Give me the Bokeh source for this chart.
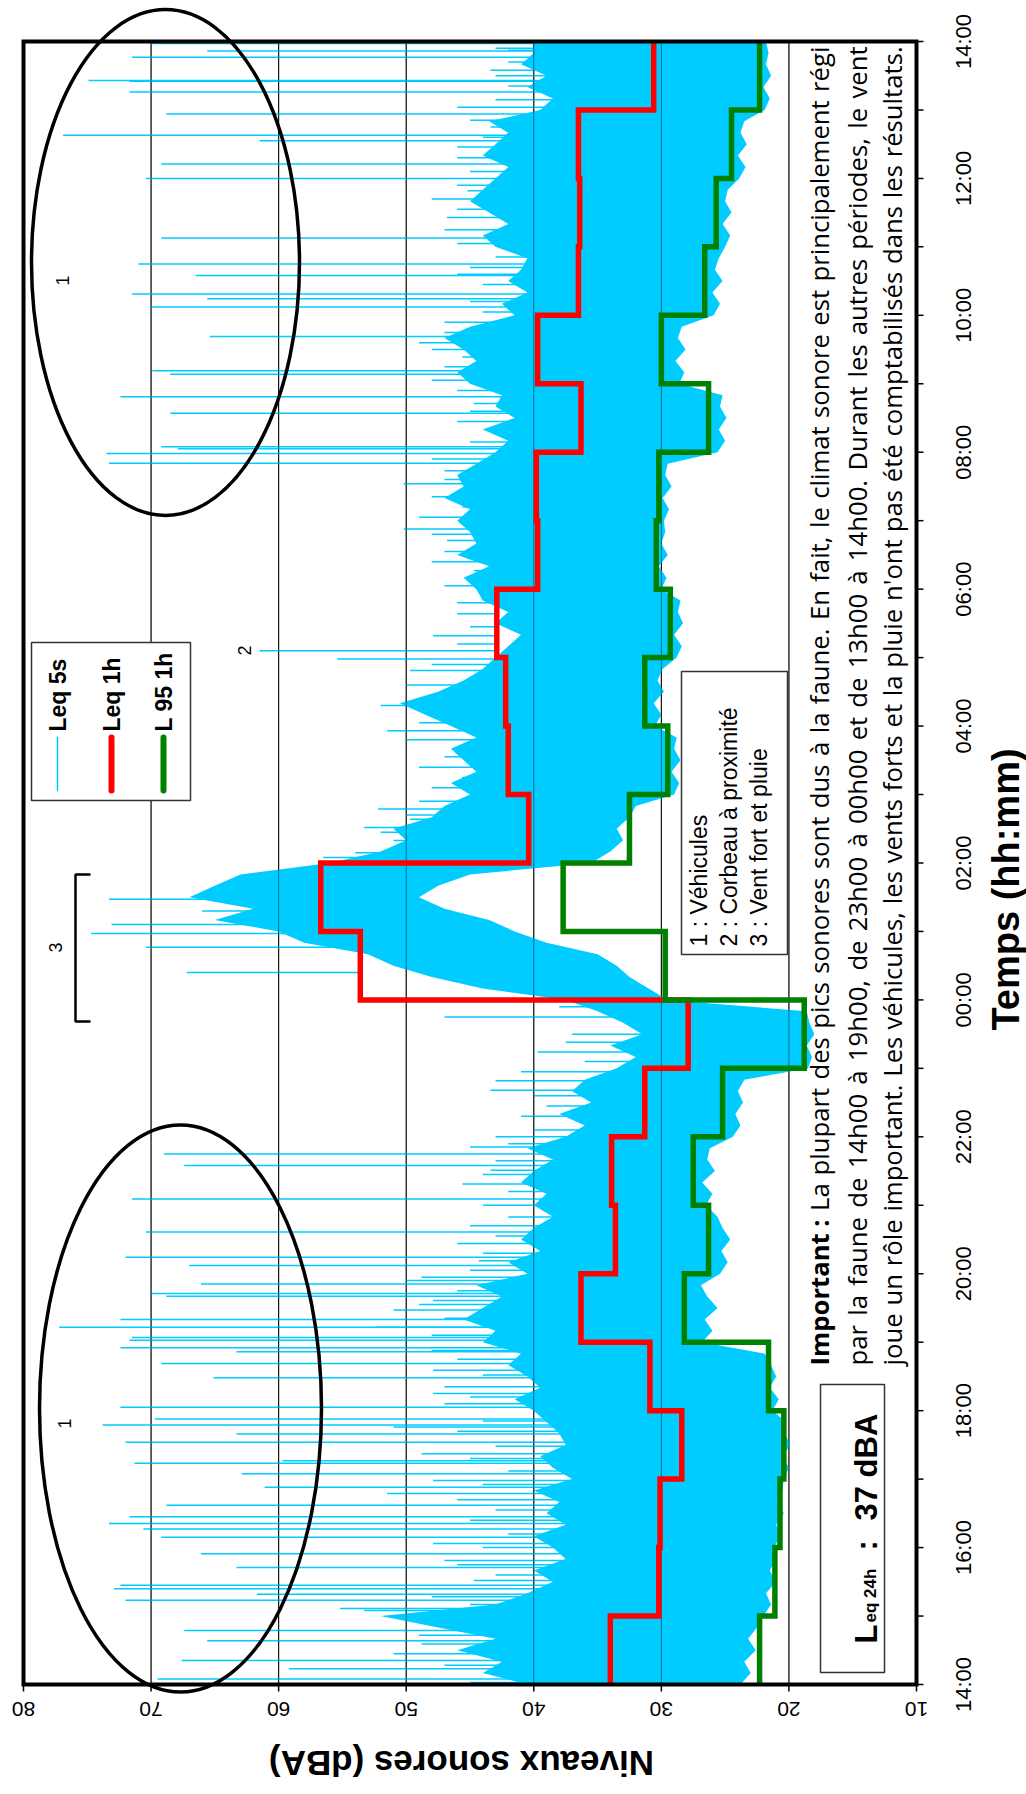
import math
from bokeh.plotting import figure
from bokeh.models import Range1d
from bokeh.core.properties import value
from bokeh.embed import file_html
from bokeh.resources import INLINE

# ---------------- data ----------------
db_ticks = [80, 70, 60, 50, 40, 30, 20, 10]
db_grid = [70, 60, 50, 40, 30, 20]
time_tick_hours = [0, 2, 4, 6, 8, 10, 12, 14, 16, 18, 20, 22, 24]
time_all_hours = list(range(25))
time_tick_labels = ["14:00", "16:00", "18:00", "20:00", "22:00", "00:00", "02:00",
                    "04:00", "06:00", "08:00", "10:00", "12:00", "14:00"]
x_title = "Niveaux sonores (dBA)"
y_title = "Temps (hh:mm)"

# hourly values (hour 0 = 14:00-15:00)
leq_1h = [34.0, 30.2, 30.1, 28.4, 30.9, 36.3, 33.6, 33.9, 31.3, 27.9, 53.6, 56.7,
          40.4, 42.0, 42.2, 42.9, 39.7, 39.8, 36.3, 39.7, 36.5, 36.4, 36.5, 30.6]
l95_1h = [22.3, 21.1, 20.7, 20.4, 21.6, 28.2, 26.3, 27.5, 25.2, 18.8, 29.7, 37.7,
          32.5, 29.5, 31.3, 29.3, 30.4, 30.2, 26.3, 30.0, 26.6, 25.7, 24.5, 22.3]

# Leq 5s band, read every 10 minutes (hours after 14:00)
leq5s_t = [h + f for h in range(24) for f in (0.0, 0.167, 0.333, 0.5, 0.667, 0.833)] + [24.0]
leq5s_low = [
    23.8, 23.0, 23.5, 22.6, 23.2, 22.5,
    22.0, 21.4, 21.8, 21.0, 21.5, 21.0,
    21.2, 20.6, 21.0, 20.4, 20.9, 20.5,
    20.4, 20.0, 20.5, 19.9, 20.3, 20.2,
    21.3, 20.8, 21.5, 21.0, 21.4, 21.9,
    26.8, 26.0, 26.6, 25.6, 26.4, 26.9,
    25.4, 24.8, 25.3, 24.6, 25.2, 25.6,
    26.5, 26.0, 26.8, 25.8, 26.4, 26.2,
    24.4, 23.8, 24.2, 23.6, 24.0, 23.5,
    18.5, 18.2, 18.6, 18.0, 18.4, 18.6,
    29.5, 31.0, 32.5, 33.5, 35.0, 39.0,
    41.5, 43.5, 47.0, 49.0, 47.5, 45.0,
    35.5, 34.0, 33.0, 33.5, 32.5, 32.0,
    29.0, 28.6, 29.2, 28.5, 29.0, 28.8,
    30.5, 30.0, 30.6, 29.8, 30.3, 29.9,
    28.8, 28.4, 29.0, 28.3, 28.7, 28.5,
    30.0, 29.6, 30.2, 29.5, 30.0, 29.7,
    29.8, 29.4, 29.9, 29.2, 29.7, 29.5,
    25.6, 25.0, 25.5, 24.9, 25.4, 25.2,
    28.6, 28.2, 28.9, 28.1, 28.7, 28.4,
    25.9, 25.4, 26.0, 25.2, 25.8, 25.5,
    25.0, 24.6, 25.2, 24.5, 25.0, 24.8,
    23.9, 23.4, 24.0, 23.3, 23.8, 23.5,
    21.9, 21.5, 22.0, 21.4, 21.8, 21.6,
    21.8]
leq5s_high = [
    40.5, 44.0, 42.5, 46.0, 43.0, 47.5,
    52.0, 43.0, 40.5, 38.5, 40.0, 37.5,
    38.5, 40.0, 37.5, 39.0, 38.0, 40.0,
    37.0, 38.5, 39.5, 37.5, 38.0, 39.0,
    40.0, 41.5, 39.5, 40.5, 42.0, 41.0,
    44.0, 43.0, 45.5, 44.0, 42.5, 44.5,
    40.5, 42.0, 39.5, 41.0, 40.0, 38.5,
    40.0, 39.0, 41.0, 40.0, 38.5, 40.5,
    37.5, 36.0, 38.0, 35.5, 37.0, 36.0,
    33.5, 32.0, 34.0, 31.5, 33.0, 35.0,
    37.5, 44.0, 48.0, 51.0, 53.0, 58.0,
    60.0, 65.0, 62.0, 67.0, 65.0, 63.0,
    56.0, 52.0, 50.0, 51.0, 48.0, 47.0,
    45.0, 46.5, 44.5, 45.5, 46.5, 44.5,
    46.5, 48.5, 50.5, 47.5, 45.5, 44.0,
    43.0, 42.0, 41.0, 43.0, 42.0, 44.0,
    44.5, 45.5, 43.5, 46.0, 44.5, 45.0,
    46.0, 45.0, 47.0, 45.5, 46.0, 44.5,
    43.0, 42.0, 44.0, 41.5, 43.0, 42.5,
    45.0, 46.0, 44.5, 45.5, 47.0, 45.0,
    41.5, 42.5, 40.5, 42.0, 41.0, 40.5,
    43.0, 44.0, 42.0, 43.5, 45.0, 44.0,
    43.0, 42.0, 44.0, 43.0, 42.0, 43.5,
    39.5, 38.5, 40.5, 39.0, 41.0, 40.0,
    40.0]

# individual Leq 5s peaks (time in hours after 14:00, level dBA)
peak_t = [0.08, 0.23, 0.35, 0.64, 0.79, 1.11, 1.23, 1.32, 1.40, 1.45, 1.71, 1.91, 2.15, 2.27, 2.35,
          2.45, 2.62, 2.88, 3.08, 3.23, 3.27, 3.54, 3.66, 3.79, 3.88, 4.05, 4.25, 4.48, 4.69, 4.86,
          4.92, 5.03, 5.07, 5.22, 5.33, 5.67, 5.71, 5.85,
          6.12, 6.24, 6.61, 7.09, 7.58, 7.75,
          10.40, 10.77, 10.97, 11.10, 11.30, 11.47, 11.52, 11.79,
          12.08, 12.64, 12.79, 13.93, 14.98, 15.10, 15.32, 16.88, 17.54, 17.84, 17.98,
          18.05, 18.08, 18.57, 18.81, 19.14, 19.19, 19.69, 20.12, 20.24, 20.31, 20.58, 20.75,
          21.13, 22.00, 22.21, 22.55, 22.63, 22.94, 23.26, 23.42, 23.43, 23.77, 23.86, 23.97,
          0.16, 0.45, 0.59, 0.96, 1.08, 1.52, 1.81, 2.06, 2.79, 2.98, 3.37, 3.76, 4.10, 4.59,
          5.22, 5.47, 5.61, 5.95, 6.19, 6.44, 6.83, 7.31, 7.51, 7.90, 8.00, 8.68, 8.82, 9.24,
          9.38, 9.75, 12.33, 12.52, 13.25, 13.69, 14.18, 14.81, 15.64, 16.27, 16.71, 17.20,
          17.73, 18.32, 18.71, 19.39, 19.75, 20.60, 21.43, 21.82, 22.46, 22.75, 23.04, 23.58,
          23.87,
          0.03, 0.28, 0.50, 0.72, 0.85, 1.17, 1.28, 1.60, 1.75, 2.00, 2.20, 2.40, 2.55, 2.70,
          2.92, 3.12, 3.30, 3.48, 3.70, 3.85, 4.20, 4.35, 4.52, 4.75, 4.88, 5.10, 5.35, 5.55,
          5.75, 5.90, 6.05, 6.30, 6.55, 6.70, 7.00, 7.20, 7.45, 7.65, 7.85, 8.10, 8.30, 8.45,
          8.60, 8.95, 9.10, 9.50, 9.90, 12.15, 12.45, 12.70, 12.90, 13.10, 13.40, 13.55, 13.80,
          14.05, 14.30, 14.60, 14.90, 15.20, 15.45, 15.80, 16.05, 16.40, 16.55, 16.80, 17.05,
          17.35, 17.60, 17.90, 18.15, 18.45, 18.60, 18.90, 19.05, 19.25, 19.50, 19.60, 19.90,
          20.05, 20.20, 20.45, 20.70, 20.85, 21.05, 21.25, 21.55, 21.70, 21.90, 22.10, 22.30,
          22.60, 22.85, 23.15, 23.35, 23.50, 23.70, 23.90]
peak_db = [69.5, 59.2, 67.6, 65.6, 67.4, 55.2, 72.0, 61.7, 72.9, 72.4, 63.3, 66.1, 69.2, 70.6, 73.3,
           71.7, 68.8, 61.1, 62.9, 71.3, 59.7, 72.0, 63.3, 73.8, 69.7, 72.4, 47.9, 65.1, 69.2, 63.3,
           72.4, 71.7, 71.5, 77.2, 72.4, 68.8, 70.1, 66.1,
           67.0, 72.0, 70.4, 71.5, 67.4, 69.0,
           67.2, 70.4, 74.7, 73.1, 66.0, 73.3, 63.3, 62.4,
           56.5, 49.7, 52.2, 51.5, 55.4, 61.5, 47.9, 50.2, 50.2, 73.3, 73.5,
           67.9, 69.2, 68.5, 72.4, 68.5, 69.9, 65.4, 70.1, 65.6, 71.5, 66.5, 71.0,
           69.2, 70.4, 69.2, 61.5, 76.9, 68.8, 71.7, 71.7, 74.9, 71.5, 65.6, 69.9,
           43.4, 51.0, 48.8, 48.8, 53.3, 44.7, 47.0, 47.9, 51.5, 47.9, 48.8, 51.0, 47.0, 47.9,
           52.4, 51.0, 47.9, 48.8, 44.3, 46.0, 42.0, 45.6, 43.4, 42.0, 43.0, 43.4, 43.0, 39.7,
           37.5, 47.0, 51.0, 53.3, 45.6, 46.0, 46.0, 49.7, 46.0, 44.7, 46.8, 45.6,
           47.0, 43.4, 44.7, 45.6, 47.0, 46.0, 46.8, 45.2, 46.0, 43.4, 46.0, 43.4,
           42.0,
           45.0, 47.0, 44.0, 49.0, 46.0, 45.0, 48.0, 43.0, 46.0, 44.0, 42.0, 45.0, 43.0, 46.0,
           44.0, 42.0, 45.0, 43.0, 46.0, 44.0, 45.0, 47.0, 44.0, 46.0, 48.0, 48.0, 47.0, 49.0,
           46.0, 50.0, 45.0, 44.0, 43.0, 45.0, 44.0, 42.0, 44.0, 43.0, 45.0, 40.0, 41.0, 39.0,
           40.0, 41.0, 36.0, 37.0, 38.0, 54.0, 52.0, 50.0, 49.0, 48.0, 49.0, 47.0, 50.0,
           49.0, 52.0, 50.0, 48.0, 46.0, 45.0, 46.0, 47.0, 48.0, 47.0, 48.0, 49.0,
           48.0, 47.0, 48.0, 45.0, 46.0, 45.0, 46.0, 48.0, 47.0, 48.0, 49.0, 47.0,
           44.0, 45.0, 44.0, 45.0, 43.0, 46.0, 47.0, 46.0, 48.0, 46.0, 45.0, 46.0,
           44.0, 45.0, 43.0, 42.0, 43.0, 42.0, 43.0]

legend_names = ["Leq 5s", "Leq 1h", "L 95 1h"]
note_lines = ["1 : Véhicules", "2 : Corbeau à proximité", "3 : Vent fort et pluie"]
important_lines = [
    "Important : La plupart des pics sonores sont dus à la faune. En fait, le climat sonore est principalement régi",
    "par la faune de 14h00 à 19h00, de 23h00 à 00h00 et de 13h00 à 14h00. Durant les autres périodes, le vent",
    "joue un rôle important. Les véhicules, les vents forts et la pluie n'ont pas été comptabilisés dans les résultats.",
]
important_bold_words = ["Important", ":"]

# ---------------- layout helpers (page pixels -> data) ----------------
W, H = 1026, 1794
FRAME_L, FRAME_R, FRAME_B = 23, 916, 1684
PX_PER_H = 68.46


def dbx(px):
    return 80 - (px - FRAME_L) * 70.0 / (FRAME_R - FRAME_L)


def ty(py):
    return (FRAME_B - py) / PX_PER_H


BLUE = "#00CCFF"
RED = "#FF0000"
GREEN = "#008000"
FONT = "Liberation Sans"

p = figure(width=W, height=H,
           x_range=Range1d(dbx(0), dbx(W)), y_range=Range1d(ty(H), ty(0)),
           x_axis_location=None, y_axis_location=None,
           output_backend="svg", toolbar_location=None,
           min_border_left=0, min_border_right=0, min_border_top=0, min_border_bottom=0)
p.outline_line_color = None
p.background_fill_color = "white"
p.border_fill_color = "white"
for g in p.grid:
    g.visible = False

# ---- gridlines (under the trace) ----
p.segment(x0=db_grid, y0=[0] * len(db_grid), x1=db_grid, y1=[24] * len(db_grid),
          line_color="black", line_width=1)

# ---- Leq 5s band and peaks ----
p.harea(x1=leq5s_low, x2=leq5s_high, y=leq5s_t, fill_color=BLUE, fill_alpha=1.0)
peak_base = [leq_1h[min(int(t), 23)] for t in peak_t]
p.segment(x0=peak_base, y0=peak_t, x1=peak_db, y1=peak_t, line_color=BLUE, line_width=1.5)

# gridlines showing through the dense trace
p.segment(x0=db_grid, y0=[0] * len(db_grid), x1=db_grid, y1=[24] * len(db_grid),
          line_color="black", line_width=1, line_alpha=0.45)


def steps(vals):
    xs, ys = [], []
    for h, v in enumerate(vals):
        xs += [v, v]
        ys += [h, h + 1]
    return xs, ys


rx, ry = steps(leq_1h)
p.line(rx, ry, line_color=RED, line_width=5.5, line_join="miter")
gx, gy = steps(l95_1h)
p.line(gx, gy, line_color=GREEN, line_width=5.5, line_join="miter")

# ---- plot box, ticks and tick labels (chart is shown rotated) ----
p.quad(left=[db_ticks[0]], right=[db_ticks[-1]], bottom=[time_tick_hours[0]],
       top=[time_tick_hours[-1]], fill_color=None, line_color="black", line_width=4,
       line_join="miter")
p.segment(x0=db_ticks, y0=[0] * len(db_ticks), x1=db_ticks, y1=[ty(FRAME_B + 7)] * len(db_ticks),
          line_color="black", line_width=1.5)
p.segment(x0=[db_ticks[-1]] * len(time_all_hours), y0=time_all_hours,
          x1=[dbx(FRAME_R + 7)] * len(time_all_hours), y1=time_all_hours,
          line_color="black", line_width=1.5)
p.text(x=db_ticks, y=[ty(1708)] * len(db_ticks), text=[str(v) for v in db_ticks],
       angle=math.pi, text_align="center", text_baseline="middle",
       text_font=value(FONT), text_font_size="21px", text_color="black")
p.text(x=[dbx(963)] * len(time_tick_hours), y=time_tick_hours, text=time_tick_labels,
       angle=math.pi / 2, text_align="center", text_baseline="middle",
       text_font=value(FONT), text_font_size="22px", text_color="black")
p.text(x=[dbx(461)], y=[ty(1763)], text=[x_title], angle=math.pi, text_align="center",
       text_baseline="middle", text_font=value(FONT), text_font_size="35px",
       text_font_style="bold", text_color="black")
p.text(x=[dbx(1005)], y=[ty(889)], text=[y_title], angle=math.pi / 2, text_align="center",
       text_baseline="middle", text_font=value(FONT), text_font_size="38px",
       text_font_style="bold", text_color="black")

# ---- ellipses marking vehicle events ----
ell_x = [dbx(165), dbx(180)]
ell_y = [ty(262), ty(1408)]
ell_w = [268 * 70.0 / 893, 282 * 70.0 / 893]
ell_h = [506 / PX_PER_H, 567 / PX_PER_H]
p.ellipse(x=ell_x, y=ell_y, width=ell_w, height=ell_h, fill_color=None,
          line_color="black", line_width=3.5)

# bracket for event 3
p.line([dbx(90), dbx(75), dbx(75), dbx(90)], [ty(874), ty(874), ty(1021), ty(1021)],
       line_color="black", line_width=2.5)

# ---- boxes ----
p.quad(left=[dbx(31)], right=[dbx(190)], top=[ty(642)], bottom=[ty(800)],
       fill_color="white", line_color="#333333", line_width=1.5)
p.quad(left=[dbx(681)], right=[dbx(787)], top=[ty(671)], bottom=[ty(954)],
       fill_color="white", line_color="#333333", line_width=1.5)
p.quad(left=[dbx(820)], right=[dbx(884)], top=[ty(1384)], bottom=[ty(1672)],
       fill_color="white", line_color="#333333", line_width=1.5)

# legend samples
leg_px = [57, 111, 163]
leg_col = [BLUE, RED, GREEN]
leg_w = [1.5, 6, 6]
for xp, c, w in zip(leg_px, leg_col, leg_w):
    p.line([dbx(xp), dbx(xp)], [ty(790), ty(737)], line_color=c, line_width=w, line_cap="round")


def lab(xp, yp, text, size, bold=False, angle=math.pi / 2, align="left", baseline="middle",
        font=FONT, color="black"):
    p.text(x=[dbx(xp)], y=[ty(yp)], text=[text], angle=angle, text_align=align,
           text_baseline=baseline, text_font=value(font), text_font_size=size,
           text_font_style="bold" if bold else "normal", text_color=color)


# approximate Open Sans advance widths (em)
OS_W = {" ": .26, "a": .556, "b": .613, "c": .476, "d": .613, "e": .561, "f": .339, "g": .548,
        "h": .614, "i": .253, "j": .253, "k": .525, "l": .253, "m": .930, "n": .614, "o": .604,
        "p": .613, "q": .613, "r": .408, "s": .477, "t": .353, "u": .614, "v": .501, "w": .778,
        "x": .524, "y": .502, "z": .477, ".": .266, ",": .266, ":": .266, "'": .189,
        "é": .561, "è": .561, "à": .556, "ô": .604, "L": .501, "D": .722, "E": .549,
        "I": .27, "T": .551}
for d in "0123456789":
    OS_W[d] = .572


def tw(s, bold=False):
    return sum(OS_W.get(ch, .6) for ch in s) * (1.08 if bold else 1.0)


Y_START, Y_END = 1365, 46
SPAN = Y_START - Y_END
fs = min(26.0, 0.985 * SPAN / tw(important_lines[2]))
for xp, line in zip([819, 857, 892], important_lines):
    words = line.split(" ")
    widths = [tw(wd, wd in important_bold_words) * fs for wd in words]
    gap = (SPAN - sum(widths)) / (len(words) - 1)
    pos = Y_START
    for wd, wpx in zip(words, widths):
        lab(xp, pos, wd, "%.1fpx" % fs, bold=wd in important_bold_words, font="Open Sans")
        pos -= wpx + gap

for xp, name in zip(leg_px, legend_names):
    lab(xp, 731, name, "23px", bold=True)

for xp, line in zip([698, 728, 758], note_lines):
    lab(xp, 946, line, "23px")

# event numbers
lab(62, 280, "1", "18px", align="center")
lab(64, 1423, "1", "18px", align="center")
lab(244, 650, "2", "18px", align="center")
lab(55, 947, "3", "18px", align="center")

# Leq 24h box text
lab(866, 1643, "L", "31px", bold=True, baseline="alphabetic")
lab(870, 1622, "eq 24h", "17px", bold=True, baseline="alphabetic")
lab(866, 1550, ":", "31px", bold=True, baseline="alphabetic")
lab(866, 1520, "37 dBA", "31px", bold=True, baseline="alphabetic")

open("out.html", "w").write(file_html(p, INLINE))
